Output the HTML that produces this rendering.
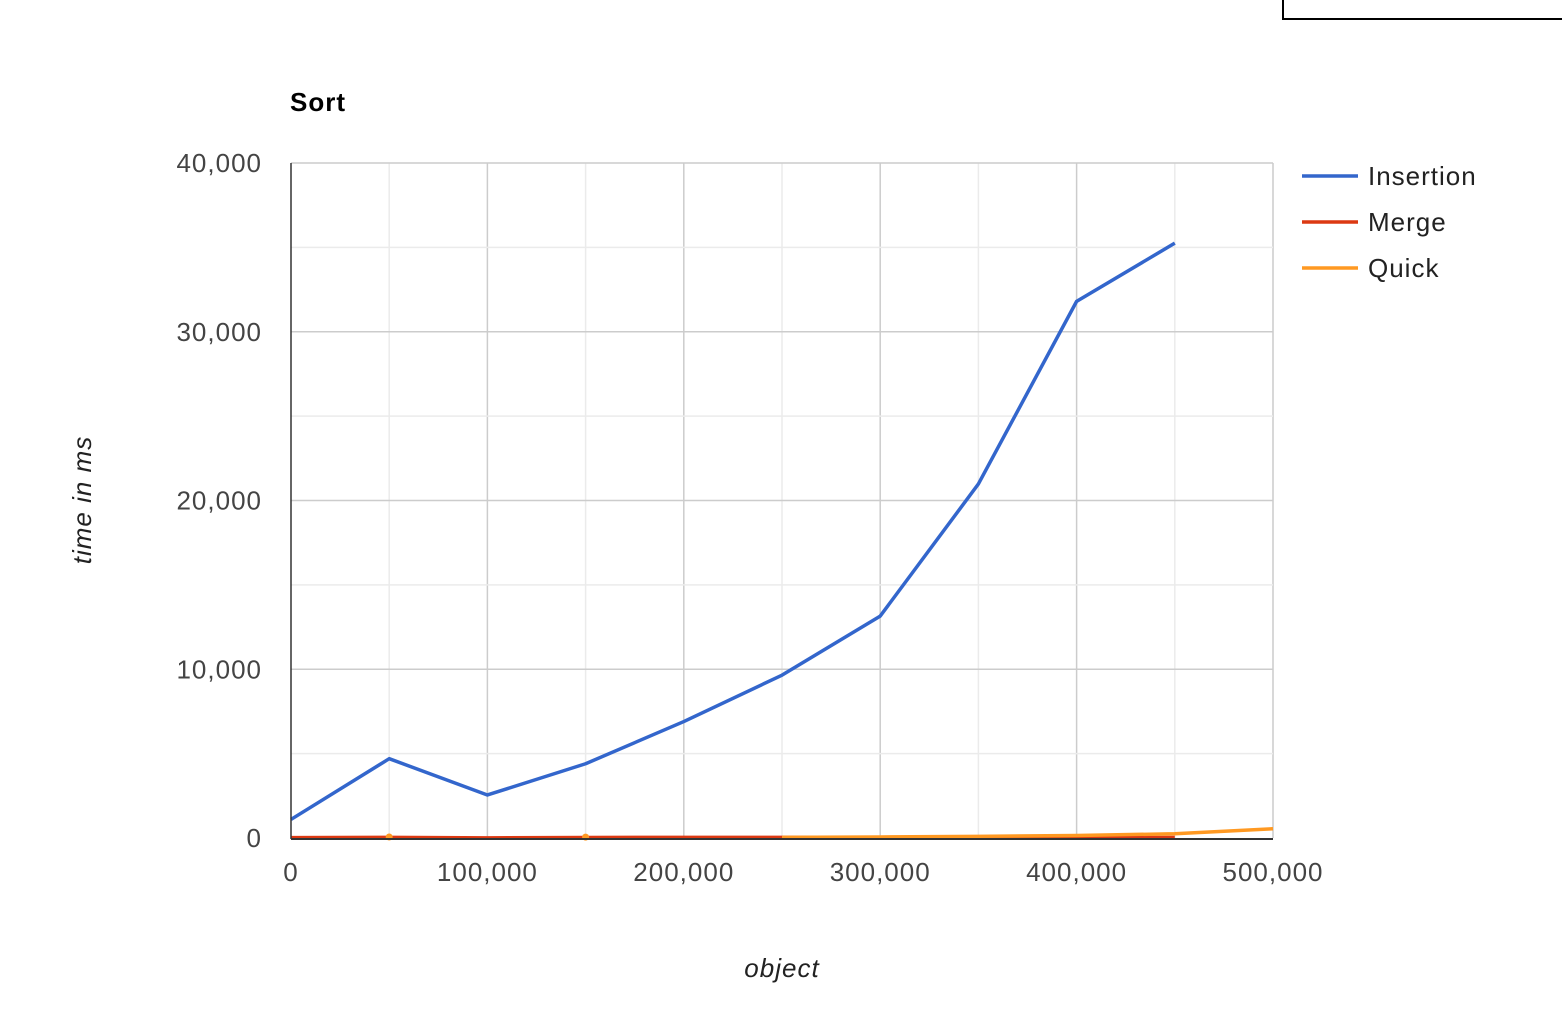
<!DOCTYPE html>
<html><head><meta charset="utf-8"><style>
body{margin:0;background:#fff;width:1562px;height:1012px;overflow:hidden;font-family:"Liberation Sans",Arial,sans-serif}
text{letter-spacing:1px}
</style></head><body>
<div style="position:absolute;left:1282px;top:-2px;width:290px;height:20px;border-left:2px solid #000;border-bottom:2px solid #000"></div>
<svg id="chart" width="1562" height="1012" style="position:absolute;left:0;top:0"></svg>
<script>
const categories=[0,50000,100000,150000,200000,250000,300000,350000,400000,450000,500000];
const insertion=[1100,4700,2550,4400,6900,9650,13150,20980,31800,35250,null];
const merge=[20,40,10,30,40,40,30,30,30,30,null];
const quick=[null,60,null,50,null,40,60,100,150,250,550];
const xTicks=[0,100000,200000,300000,400000,500000];
const yTicks=[0,10000,20000,30000,40000];
const NS="http://www.w3.org/2000/svg",svg=document.getElementById('chart');
const X0=291,X1=1273,Y0=838,Y1=163;
const xs=v=>X0+(v/500000)*(X1-X0), ys=v=>Y0-(v/40000)*(Y0-Y1);
function mk(t,a,p){const e=document.createElementNS(NS,t);for(const k in a)e.setAttribute(k,a[k]);(p||svg).appendChild(e);return e;}
const fmt=v=>v.toLocaleString('en-US');
for(let v=50000;v<=500000;v+=50000){const major=v%100000===0;
const g=mk('line',{x1:xs(v),x2:xs(v),y1:Y1,y2:Y0,stroke:major?'#ccc':'#ebebeb','stroke-width':1.5});

}
for(let v=5000;v<=40000;v+=5000){const major=v%10000===0;
const g=mk('line',{x1:X0,x2:X1,y1:ys(v),y2:ys(v),stroke:major?'#ccc':'#ebebeb','stroke-width':1.5});

}
yTicks.forEach(v=>{const t=mk('text',{x:262,y:ys(v)+9,'text-anchor':'end','font-size':26,fill:'#444'});t.textContent=fmt(v);

});
xTicks.forEach(v=>{const t=mk('text',{x:xs(v),y:881,'text-anchor':'middle','font-size':26,fill:'#444'});t.textContent=fmt(v);

});
function series(vals,color,name){let d='';vals.forEach((v,i)=>{if(v==null){d+=' ';return;}
const prevNull=i===0||vals[i-1]==null;d+=(prevNull?'M':'L')+xs(categories[i])+','+ys(v);});
const p=mk('path',{d:d.trim(),fill:'none',stroke:color,'stroke-width':3.5,'stroke-linejoin':'round'});


vals.forEach((v,i)=>{if(v!=null&&(i===0||vals[i-1]==null)&&(i===vals.length-1||vals[i+1]==null)){
const c=mk('circle',{cx:xs(categories[i]),cy:ys(v),r:3.5,fill:color});

}});}
series(insertion,'#3366cc','insertion');
series(merge,'#dc3912','merge');
series(quick,'#ff9922','quick');
const ax=mk('line',{x1:X0,x2:X0,y1:Y1,y2:Y0+1,stroke:'#333','stroke-width':1.5});

const bx=mk('line',{x1:X0,x2:X1,y1:Y0+1,y2:Y0+1,stroke:'#333','stroke-width':2});

const ti=mk('text',{x:290,y:111,'font-size':26,'font-weight':'bold',fill:'#000'});ti.textContent='Sort';

const xt=mk('text',{x:782,y:977,'text-anchor':'middle','font-size':26,'font-style':'italic',fill:'#222'});xt.textContent='object';

const yt=mk('text',{x:0,y:0,'text-anchor':'middle','font-size':26,'font-style':'italic',fill:'#222',transform:'translate(91,500) rotate(-90)'});yt.textContent='time in ms';

[['Insertion','#3366cc'],['Merge','#dc3912'],['Quick','#ff9922']].forEach((l,i)=>{const y=176+i*46;
const ln=mk('line',{x1:1302,x2:1358,y1:y,y2:y,stroke:l[1],'stroke-width':3.5});

const t=mk('text',{x:1368,y:y+9,'font-size':26,fill:'#222'});t.textContent=l[0];
});
</script>
</body></html>
